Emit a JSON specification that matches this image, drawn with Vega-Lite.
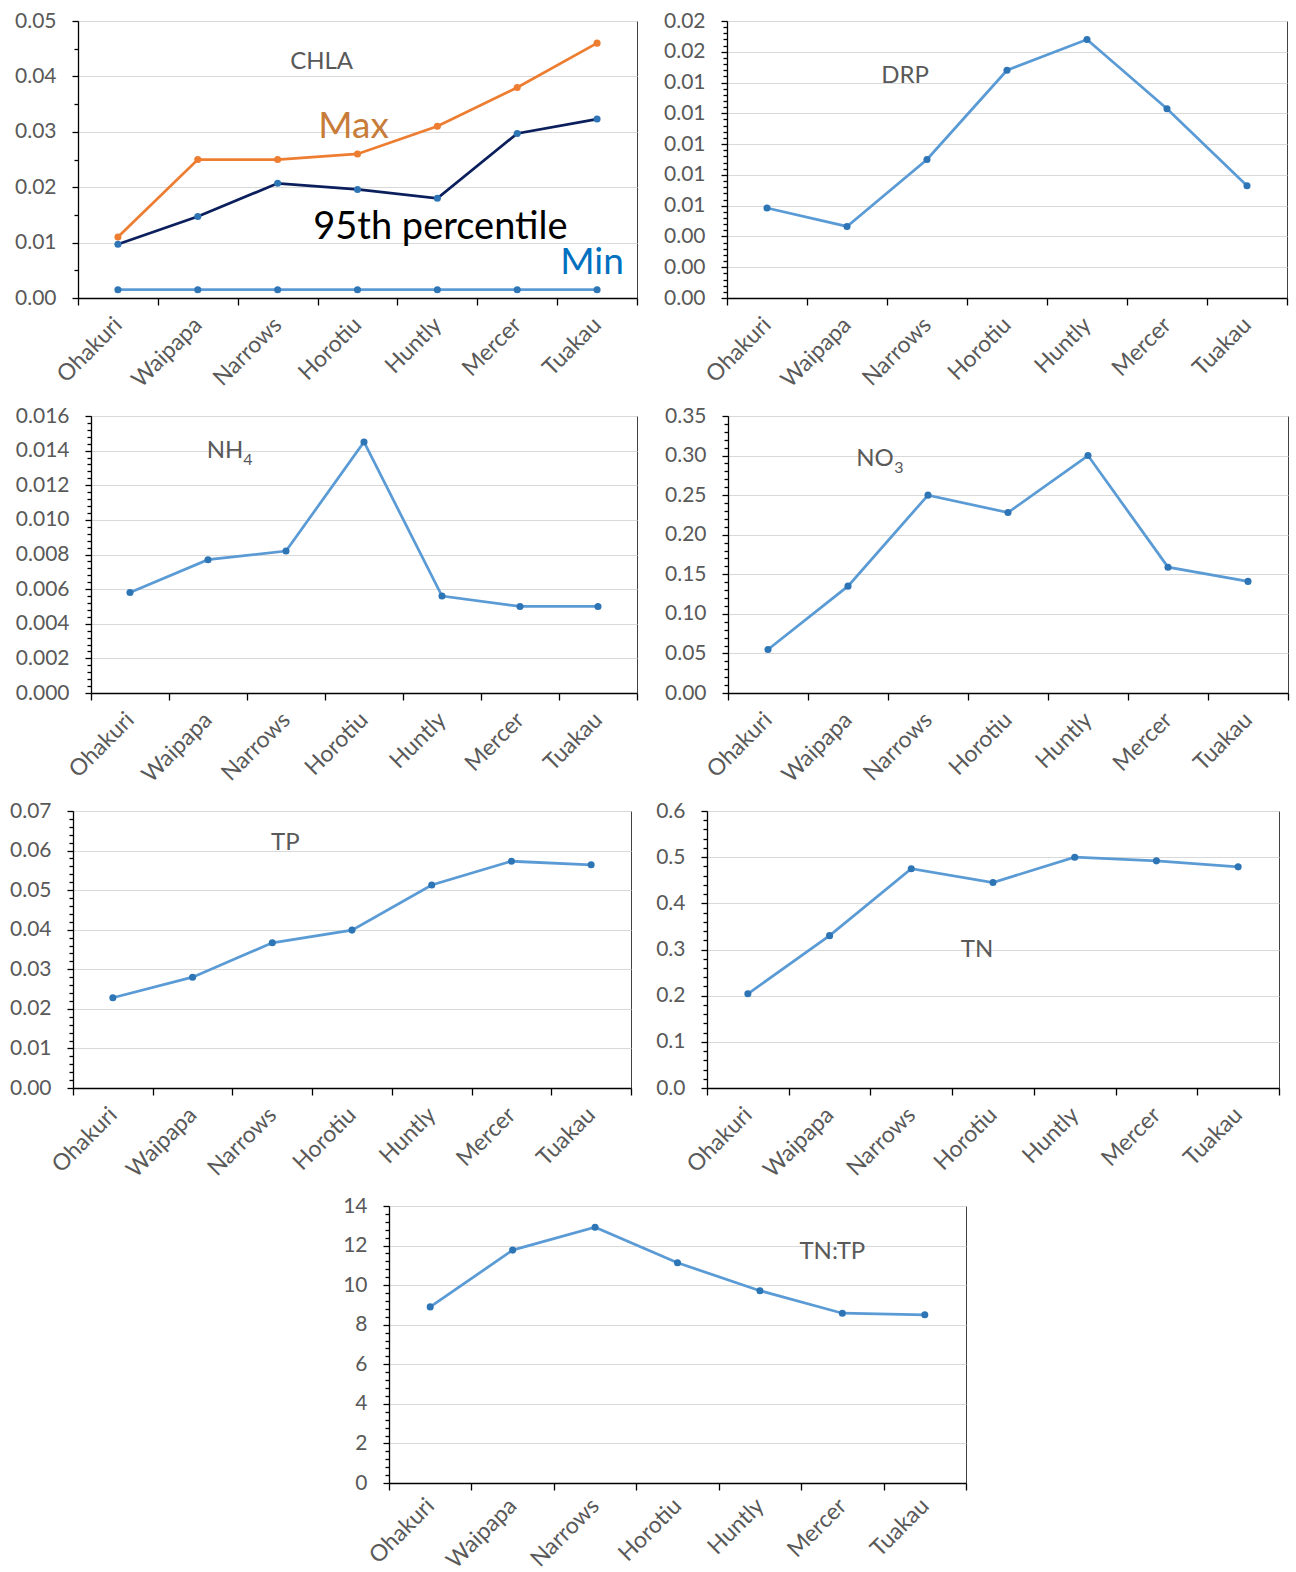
{
  "$schema": "https://vega.github.io/schema/vega-lite/v6.json",
  "padding": {"left": 0, "top": 9, "right": 0, "bottom": 0},
  "background": "white",
  "datasets": {
    "chla": [
      {"series": "Max", "site": "Ohakuri", "v": 0.011},
      {"series": "Max", "site": "Waipapa", "v": 0.025},
      {"series": "Max", "site": "Narrows", "v": 0.025},
      {"series": "Max", "site": "Horotiu", "v": 0.026},
      {"series": "Max", "site": "Huntly", "v": 0.031},
      {"series": "Max", "site": "Mercer", "v": 0.038},
      {"series": "Max", "site": "Tuakau", "v": 0.046},
      {"series": "95th", "site": "Ohakuri", "v": 0.0097},
      {"series": "95th", "site": "Waipapa", "v": 0.0147},
      {"series": "95th", "site": "Narrows", "v": 0.0207},
      {"series": "95th", "site": "Horotiu", "v": 0.0196},
      {"series": "95th", "site": "Huntly", "v": 0.018},
      {"series": "95th", "site": "Mercer", "v": 0.0297},
      {"series": "95th", "site": "Tuakau", "v": 0.0323},
      {"series": "Min", "site": "Ohakuri", "v": 0.0015},
      {"series": "Min", "site": "Waipapa", "v": 0.0015},
      {"series": "Min", "site": "Narrows", "v": 0.0015},
      {"series": "Min", "site": "Horotiu", "v": 0.0015},
      {"series": "Min", "site": "Huntly", "v": 0.0015},
      {"series": "Min", "site": "Mercer", "v": 0.0015},
      {"series": "Min", "site": "Tuakau", "v": 0.0015}
    ],
    "drp": [
      {"site": "Ohakuri", "v": 0.00585},
      {"site": "Waipapa", "v": 0.00465},
      {"site": "Narrows", "v": 0.0090},
      {"site": "Horotiu", "v": 0.0148},
      {"site": "Huntly", "v": 0.0168},
      {"site": "Mercer", "v": 0.0123},
      {"site": "Tuakau", "v": 0.0073}
    ],
    "nh4": [
      {"site": "Ohakuri", "v": 0.0058},
      {"site": "Waipapa", "v": 0.0077},
      {"site": "Narrows", "v": 0.0082},
      {"site": "Horotiu", "v": 0.0145},
      {"site": "Huntly", "v": 0.0056},
      {"site": "Mercer", "v": 0.0050},
      {"site": "Tuakau", "v": 0.0050}
    ],
    "no3": [
      {"site": "Ohakuri", "v": 0.055},
      {"site": "Waipapa", "v": 0.135},
      {"site": "Narrows", "v": 0.250},
      {"site": "Horotiu", "v": 0.228},
      {"site": "Huntly", "v": 0.300},
      {"site": "Mercer", "v": 0.159},
      {"site": "Tuakau", "v": 0.141}
    ],
    "tp": [
      {"site": "Ohakuri", "v": 0.0228},
      {"site": "Waipapa", "v": 0.0280},
      {"site": "Narrows", "v": 0.0367},
      {"site": "Horotiu", "v": 0.0399},
      {"site": "Huntly", "v": 0.0513},
      {"site": "Mercer", "v": 0.0573},
      {"site": "Tuakau", "v": 0.0564}
    ],
    "tn": [
      {"site": "Ohakuri", "v": 0.204},
      {"site": "Waipapa", "v": 0.330},
      {"site": "Narrows", "v": 0.475},
      {"site": "Horotiu", "v": 0.445},
      {"site": "Huntly", "v": 0.500},
      {"site": "Mercer", "v": 0.492},
      {"site": "Tuakau", "v": 0.479}
    ],
    "tntp": [
      {"site": "Ohakuri", "v": 8.90},
      {"site": "Waipapa", "v": 11.77},
      {"site": "Narrows", "v": 12.93},
      {"site": "Horotiu", "v": 11.13},
      {"site": "Huntly", "v": 9.72},
      {"site": "Mercer", "v": 8.58},
      {"site": "Tuakau", "v": 8.50}
    ]
  },
  "spacing": 5,
  "vconcat": [
    {
      "spacing": 10,
      "hconcat": [
        {"width": 1, "height": 1, "data": {"values": []}, "mark": {"type": "point"}, "view": {"fill": "white", "stroke": null}},
        {
          "width": 559, "height": 277,
          "data": {"name": "chla"},
          "encoding": {"x": {"field": "site", "type": "nominal", "sort": null, "scale": {"type": "band", "domain": ["Ohakuri","Waipapa","Narrows","Horotiu","Huntly","Mercer","Tuakau"], "paddingInner": 0, "paddingOuter": 0}, "axis": {"title": null, "tickBand": "extent", "labelAngle": -45, "labelAlign": "right", "labelBaseline": "middle", "labelFontSize": 23, "labelPadding": 16, "tickSize": 7, "grid": false, "labelOverlap": false, "minExtent": 100, "maxExtent": 100}}},
          "layer": [
            {"mark": {"type": "line", "strokeWidth": 2.75},
             "encoding": {
               "y": {"field": "v", "type": "quantitative", "scale": {"domain": [0, 0.05], "nice": false}, "axis": {"title": null, "orient": "left", "values": [0,0.01,0.02,0.03,0.04,0.05], "format": ".2f", "tickSize": 6, "labelPadding": 16, "grid": true, "labelOverlap": false, "labelFlush": false, "minExtent": 66, "maxExtent": 66}},
               "color": {"field": "series", "type": "nominal", "scale": {"domain": ["Min","95th","Max"], "range": ["#5B9BD5","#0B1F5C","#ED7D31"]}, "legend": null}}},
            {"mark": {"type": "point", "filled": true, "size": 50, "opacity": 1, "strokeWidth": 0},
             "encoding": {
               "y": {"field": "v", "type": "quantitative", "axis": {"title": null, "orient": "left", "values": [0.005,0.015,0.025,0.035,0.045], "labels": false, "domain": false, "grid": false, "tickSize": 4, "minExtent": 0, "maxExtent": 0}},
               "fill": {"field": "series", "type": "nominal", "scale": {"domain": ["Min","95th","Max"], "range": ["#2E75B6","#2E75B6","#ED7D31"]}, "legend": null}}},
            {"data": {"values": [{}]}, "mark": {"type": "text", "text": "CHLA", "fontSize": 24, "color": "#595959", "align": "center", "baseline": "alphabetic", "dx": 44},
             "encoding": {"x": {"datum": "Narrows", "type": "nominal"}, "y": {"datum": 0.0413, "type": "quantitative", "axis": null}}},
            {"data": {"values": [{}]}, "mark": {"type": "text", "text": "Max", "fontSize": 37, "color": "#C87C3A", "align": "center", "baseline": "alphabetic", "dx": -4},
             "encoding": {"x": {"datum": "Horotiu", "type": "nominal"}, "y": {"datum": 0.0289, "type": "quantitative", "axis": null}}},
            {"data": {"values": [{}]}, "mark": {"type": "text", "text": "95th percentile", "fontSize": 38, "color": "#000000", "align": "center", "baseline": "alphabetic", "dx": 3},
             "encoding": {"x": {"datum": "Huntly", "type": "nominal"}, "y": {"datum": 0.01065, "type": "quantitative", "axis": null}}},
            {"data": {"values": [{}]}, "mark": {"type": "text", "text": "Min", "fontSize": 37, "color": "#0070C0", "align": "center", "baseline": "alphabetic", "dx": -5},
             "encoding": {"x": {"datum": "Tuakau", "type": "nominal"}, "y": {"datum": 0.00433, "type": "quantitative", "axis": null}}}
          ],
          "resolve": {"axis": {"y": "independent"}}
        },
        {
          "width": 560, "height": 277,
          "data": {"name": "drp"},
          "encoding": {"x": {"field": "site", "type": "nominal", "sort": null, "scale": {"type": "band", "domain": ["Ohakuri","Waipapa","Narrows","Horotiu","Huntly","Mercer","Tuakau"], "paddingInner": 0, "paddingOuter": 0}, "axis": {"title": null, "tickBand": "extent", "labelAngle": -45, "labelAlign": "right", "labelBaseline": "middle", "labelFontSize": 23, "labelPadding": 16, "tickSize": 7, "grid": false, "labelOverlap": false, "minExtent": 100, "maxExtent": 100}}},
          "layer": [
            {"mark": {"type": "line", "strokeWidth": 2.75, "color": "#5B9BD5"},
             "encoding": {"y": {"field": "v", "type": "quantitative", "scale": {"domain": [0, 0.018], "nice": false}, "axis": {"title": null, "orient": "left", "values": [0,0.002,0.004,0.006,0.008,0.01,0.012,0.014,0.016,0.018], "format": ".2f", "tickSize": 6, "labelPadding": 16, "grid": true, "labelOverlap": false, "labelFlush": false, "minExtent": 77, "maxExtent": 77}}}},
            {"mark": {"type": "point", "filled": true, "size": 50, "opacity": 1, "strokeWidth": 0, "color": "#2E75B6"},
             "encoding": {"y": {"field": "v", "type": "quantitative", "axis": {"title": null, "orient": "left", "values": [0.0004,0.0008,0.0012,0.0016,0.0024,0.0028,0.0032,0.0036,0.0044,0.0048,0.0052,0.0056,0.0064,0.0068,0.0072,0.0076,0.0084,0.0088,0.0092,0.0096,0.0104,0.0108,0.0112,0.0116,0.0124,0.0128,0.0132,0.0136,0.0144,0.0148,0.0152,0.0156,0.0164,0.0168,0.0172,0.0176], "labels": false, "domain": false, "grid": false, "tickSize": 4, "minExtent": 0, "maxExtent": 0}}}},
            {"data": {"values": [{}]}, "mark": {"type": "text", "text": "DRP", "fontSize": 24, "color": "#595959", "align": "center", "baseline": "alphabetic", "dx": -22},
             "encoding": {"x": {"datum": "Narrows", "type": "nominal"}, "y": {"datum": 0.01399, "type": "quantitative", "axis": null}}}
          ],
          "resolve": {"axis": {"y": "independent"}}
        }
      ]
    },
    {
      "spacing": 10,
      "hconcat": [
        {"width": 1, "height": 1, "data": {"values": []}, "mark": {"type": "point"}, "view": {"fill": "white", "stroke": null}},
        {
          "width": 546, "height": 277,
          "data": {"name": "nh4"},
          "encoding": {"x": {"field": "site", "type": "nominal", "sort": null, "scale": {"type": "band", "domain": ["Ohakuri","Waipapa","Narrows","Horotiu","Huntly","Mercer","Tuakau"], "paddingInner": 0, "paddingOuter": 0}, "axis": {"title": null, "tickBand": "extent", "labelAngle": -45, "labelAlign": "right", "labelBaseline": "middle", "labelFontSize": 23, "labelPadding": 16, "tickSize": 7, "grid": false, "labelOverlap": false, "minExtent": 100, "maxExtent": 100}}},
          "layer": [
            {"mark": {"type": "line", "strokeWidth": 2.75, "color": "#5B9BD5"},
             "encoding": {"y": {"field": "v", "type": "quantitative", "scale": {"domain": [0, 0.016], "nice": false}, "axis": {"title": null, "orient": "left", "values": [0,0.002,0.004,0.006,0.008,0.01,0.012,0.014,0.016], "format": ".3f", "tickSize": 6, "labelPadding": 16, "grid": true, "labelOverlap": false, "labelFlush": false, "minExtent": 79, "maxExtent": 79}}}},
            {"mark": {"type": "point", "filled": true, "size": 50, "opacity": 1, "strokeWidth": 0, "color": "#2E75B6"},
             "encoding": {"y": {"field": "v", "type": "quantitative", "axis": {"title": null, "orient": "left", "values": [0.0004,0.0008,0.0012,0.0016,0.0024,0.0028,0.0032,0.0036,0.0044,0.0048,0.0052,0.0056,0.0064,0.0068,0.0072,0.0076,0.0084,0.0088,0.0092,0.0096,0.0104,0.0108,0.0112,0.0116,0.0124,0.0128,0.0132,0.0136,0.0144,0.0148,0.0152,0.0156], "labels": false, "domain": false, "grid": false, "tickSize": 4, "minExtent": 0, "maxExtent": 0}}}},
            {"data": {"values": [{}]}, "mark": {"type": "text", "text": "NH", "fontSize": 24, "color": "#595959", "align": "center", "baseline": "alphabetic", "dx": 17},
             "encoding": {"x": {"datum": "Waipapa", "type": "nominal"}, "y": {"datum": 0.01357, "type": "quantitative", "axis": null}}},
            {"data": {"values": [{}]}, "mark": {"type": "text", "text": "4", "fontSize": 16, "color": "#595959", "align": "center", "baseline": "alphabetic", "dx": 40},
             "encoding": {"x": {"datum": "Waipapa", "type": "nominal"}, "y": {"datum": 0.01317, "type": "quantitative", "axis": null}}}
          ],
          "resolve": {"axis": {"y": "independent"}}
        },
        {
          "width": 560, "height": 277,
          "data": {"name": "no3"},
          "encoding": {"x": {"field": "site", "type": "nominal", "sort": null, "scale": {"type": "band", "domain": ["Ohakuri","Waipapa","Narrows","Horotiu","Huntly","Mercer","Tuakau"], "paddingInner": 0, "paddingOuter": 0}, "axis": {"title": null, "tickBand": "extent", "labelAngle": -45, "labelAlign": "right", "labelBaseline": "middle", "labelFontSize": 23, "labelPadding": 16, "tickSize": 7, "grid": false, "labelOverlap": false, "minExtent": 100, "maxExtent": 100}}},
          "layer": [
            {"mark": {"type": "line", "strokeWidth": 2.75, "color": "#5B9BD5"},
             "encoding": {"y": {"field": "v", "type": "quantitative", "scale": {"domain": [0, 0.35], "nice": false}, "axis": {"title": null, "orient": "left", "values": [0,0.05,0.1,0.15,0.2,0.25,0.3,0.35], "format": ".2f", "tickSize": 6, "labelPadding": 16, "grid": true, "labelOverlap": false, "labelFlush": false, "minExtent": 78, "maxExtent": 78}}}},
            {"mark": {"type": "point", "filled": true, "size": 50, "opacity": 1, "strokeWidth": 0, "color": "#2E75B6"},
             "encoding": {"y": {"field": "v", "type": "quantitative", "axis": {"title": null, "orient": "left", "values": [0.01,0.02,0.03,0.04,0.06,0.07,0.08,0.09,0.11,0.12,0.13,0.14,0.16,0.17,0.18,0.19,0.21,0.22,0.23,0.24,0.26,0.27,0.28,0.29,0.31,0.32,0.33,0.34], "labels": false, "domain": false, "grid": false, "tickSize": 4, "minExtent": 0, "maxExtent": 0}}}},
            {"data": {"values": [{}]}, "mark": {"type": "text", "text": "NO", "fontSize": 24, "color": "#595959", "align": "center", "baseline": "alphabetic", "dx": 27},
             "encoding": {"x": {"datum": "Waipapa", "type": "nominal"}, "y": {"datum": 0.2864, "type": "quantitative", "axis": null}}},
            {"data": {"values": [{}]}, "mark": {"type": "text", "text": "3", "fontSize": 16, "color": "#595959", "align": "center", "baseline": "alphabetic", "dx": 51},
             "encoding": {"x": {"datum": "Waipapa", "type": "nominal"}, "y": {"datum": 0.278, "type": "quantitative", "axis": null}}}
          ],
          "resolve": {"axis": {"y": "independent"}}
        }
      ]
    },
    {
      "spacing": 5,
      "hconcat": [
        {"width": 1, "height": 1, "data": {"values": []}, "mark": {"type": "point"}, "view": {"fill": "white", "stroke": null}},
        {
          "width": 558, "height": 277,
          "data": {"name": "tp"},
          "encoding": {"x": {"field": "site", "type": "nominal", "sort": null, "scale": {"type": "band", "domain": ["Ohakuri","Waipapa","Narrows","Horotiu","Huntly","Mercer","Tuakau"], "paddingInner": 0, "paddingOuter": 0}, "axis": {"title": null, "tickBand": "extent", "labelAngle": -45, "labelAlign": "right", "labelBaseline": "middle", "labelFontSize": 23, "labelPadding": 16, "tickSize": 7, "grid": false, "labelOverlap": false, "minExtent": 100, "maxExtent": 100}}},
          "layer": [
            {"mark": {"type": "line", "strokeWidth": 2.75, "color": "#5B9BD5"},
             "encoding": {"y": {"field": "v", "type": "quantitative", "scale": {"domain": [0, 0.07], "nice": false}, "axis": {"title": null, "orient": "left", "values": [0,0.01,0.02,0.03,0.04,0.05,0.06,0.07], "format": ".2f", "tickSize": 6, "labelPadding": 16, "grid": true, "labelOverlap": false, "labelFlush": false, "minExtent": 66, "maxExtent": 66}}}},
            {"mark": {"type": "point", "filled": true, "size": 50, "opacity": 1, "strokeWidth": 0, "color": "#2E75B6"},
             "encoding": {"y": {"field": "v", "type": "quantitative", "axis": {"title": null, "orient": "left", "values": [0.002,0.004,0.006,0.008,0.012,0.014,0.016,0.018,0.022,0.024,0.026,0.028,0.032,0.034,0.036,0.038,0.042,0.044,0.046,0.048,0.052,0.054,0.056,0.058,0.062,0.064,0.066,0.068], "labels": false, "domain": false, "grid": false, "tickSize": 4, "minExtent": 0, "maxExtent": 0}}}},
            {"data": {"values": [{}]}, "mark": {"type": "text", "text": "TP", "fontSize": 24, "color": "#595959", "align": "center", "baseline": "alphabetic", "dx": 13},
             "encoding": {"x": {"datum": "Narrows", "type": "nominal"}, "y": {"datum": 0.0602, "type": "quantitative", "axis": null}}}
          ],
          "resolve": {"axis": {"y": "independent"}}
        },
        {
          "width": 572, "height": 277,
          "data": {"name": "tn"},
          "encoding": {"x": {"field": "site", "type": "nominal", "sort": null, "scale": {"type": "band", "domain": ["Ohakuri","Waipapa","Narrows","Horotiu","Huntly","Mercer","Tuakau"], "paddingInner": 0, "paddingOuter": 0}, "axis": {"title": null, "tickBand": "extent", "labelAngle": -45, "labelAlign": "right", "labelBaseline": "middle", "labelFontSize": 23, "labelPadding": 16, "tickSize": 7, "grid": false, "labelOverlap": false, "minExtent": 100, "maxExtent": 100}}},
          "layer": [
            {"mark": {"type": "line", "strokeWidth": 2.75, "color": "#5B9BD5"},
             "encoding": {"y": {"field": "v", "type": "quantitative", "scale": {"domain": [0, 0.6], "nice": false}, "axis": {"title": null, "orient": "left", "values": [0,0.1,0.2,0.3,0.4,0.5,0.6], "format": ".1f", "tickSize": 6, "labelPadding": 16, "grid": true, "labelOverlap": false, "labelFlush": false, "minExtent": 68, "maxExtent": 68}}}},
            {"mark": {"type": "point", "filled": true, "size": 50, "opacity": 1, "strokeWidth": 0, "color": "#2E75B6"},
             "encoding": {"y": {"field": "v", "type": "quantitative", "axis": {"title": null, "orient": "left", "values": [0.02,0.04,0.06,0.08,0.12,0.14,0.16,0.18,0.22,0.24,0.26,0.28,0.32,0.34,0.36,0.38,0.42,0.44,0.46,0.48,0.52,0.54,0.56,0.58], "labels": false, "domain": false, "grid": false, "tickSize": 4, "minExtent": 0, "maxExtent": 0}}}},
            {"data": {"values": [{}]}, "mark": {"type": "text", "text": "TN", "fontSize": 24, "color": "#595959", "align": "center", "baseline": "alphabetic", "dx": -16},
             "encoding": {"x": {"datum": "Horotiu", "type": "nominal"}, "y": {"datum": 0.2844, "type": "quantitative", "axis": null}}}
          ],
          "resolve": {"axis": {"y": "independent"}}
        }
      ]
    },
    {
      "spacing": 10,
      "hconcat": [
        {"width": 1, "height": 1, "data": {"values": []}, "mark": {"type": "point"}, "view": {"fill": "white", "stroke": null}},
        {
          "width": 577, "height": 277,
          "data": {"name": "tntp"},
          "encoding": {"x": {"field": "site", "type": "nominal", "sort": null, "scale": {"type": "band", "domain": ["Ohakuri","Waipapa","Narrows","Horotiu","Huntly","Mercer","Tuakau"], "paddingInner": 0, "paddingOuter": 0}, "axis": {"title": null, "tickBand": "extent", "labelAngle": -45, "labelAlign": "right", "labelBaseline": "middle", "labelFontSize": 23, "labelPadding": 12, "tickSize": 7, "grid": false, "labelOverlap": false, "minExtent": 88, "maxExtent": 88}}},
          "layer": [
            {"mark": {"type": "line", "strokeWidth": 2.75, "color": "#5B9BD5"},
             "encoding": {"y": {"field": "v", "type": "quantitative", "scale": {"domain": [0, 14], "nice": false}, "axis": {"title": null, "orient": "left", "values": [0,2,4,6,8,10,12,14], "format": "d", "tickSize": 6, "labelPadding": 16, "grid": true, "labelOverlap": false, "labelFlush": false, "minExtent": 377, "maxExtent": 377}}}},
            {"mark": {"type": "point", "filled": true, "size": 50, "opacity": 1, "strokeWidth": 0, "color": "#2E75B6"},
             "encoding": {"y": {"field": "v", "type": "quantitative", "axis": {"title": null, "orient": "left", "values": [0.4,0.8,1.2,1.6,2.4,2.8,3.2,3.6,4.4,4.8,5.2,5.6,6.4,6.8,7.2,7.6,8.4,8.8,9.2,9.6,10.4,10.8,11.2,11.6,12.4,12.8,13.2,13.6], "labels": false, "domain": false, "grid": false, "tickSize": 4, "minExtent": 0, "maxExtent": 0}}}},
            {"data": {"values": [{}]}, "mark": {"type": "text", "text": "TN:TP", "fontSize": 24, "color": "#595959", "align": "center", "baseline": "alphabetic", "dx": -10},
             "encoding": {"x": {"datum": "Mercer", "type": "nominal"}, "y": {"datum": 11.32, "type": "quantitative", "axis": null}}}
          ],
          "resolve": {"axis": {"y": "independent"}}
        }
      ]
    }
  ],
  "config": {
    "font": "Lato",
    "view": {"stroke": "#404040", "strokeWidth": 1},
    "axis": {"labelFont": "Lato", "labelFontSize": 21, "labelColor": "#595959", "domainColor": "#000000", "domainWidth": 1.3, "tickColor": "#000000", "tickWidth": 1.3, "gridColor": "#D9D9D9", "gridWidth": 1}
  }
}
